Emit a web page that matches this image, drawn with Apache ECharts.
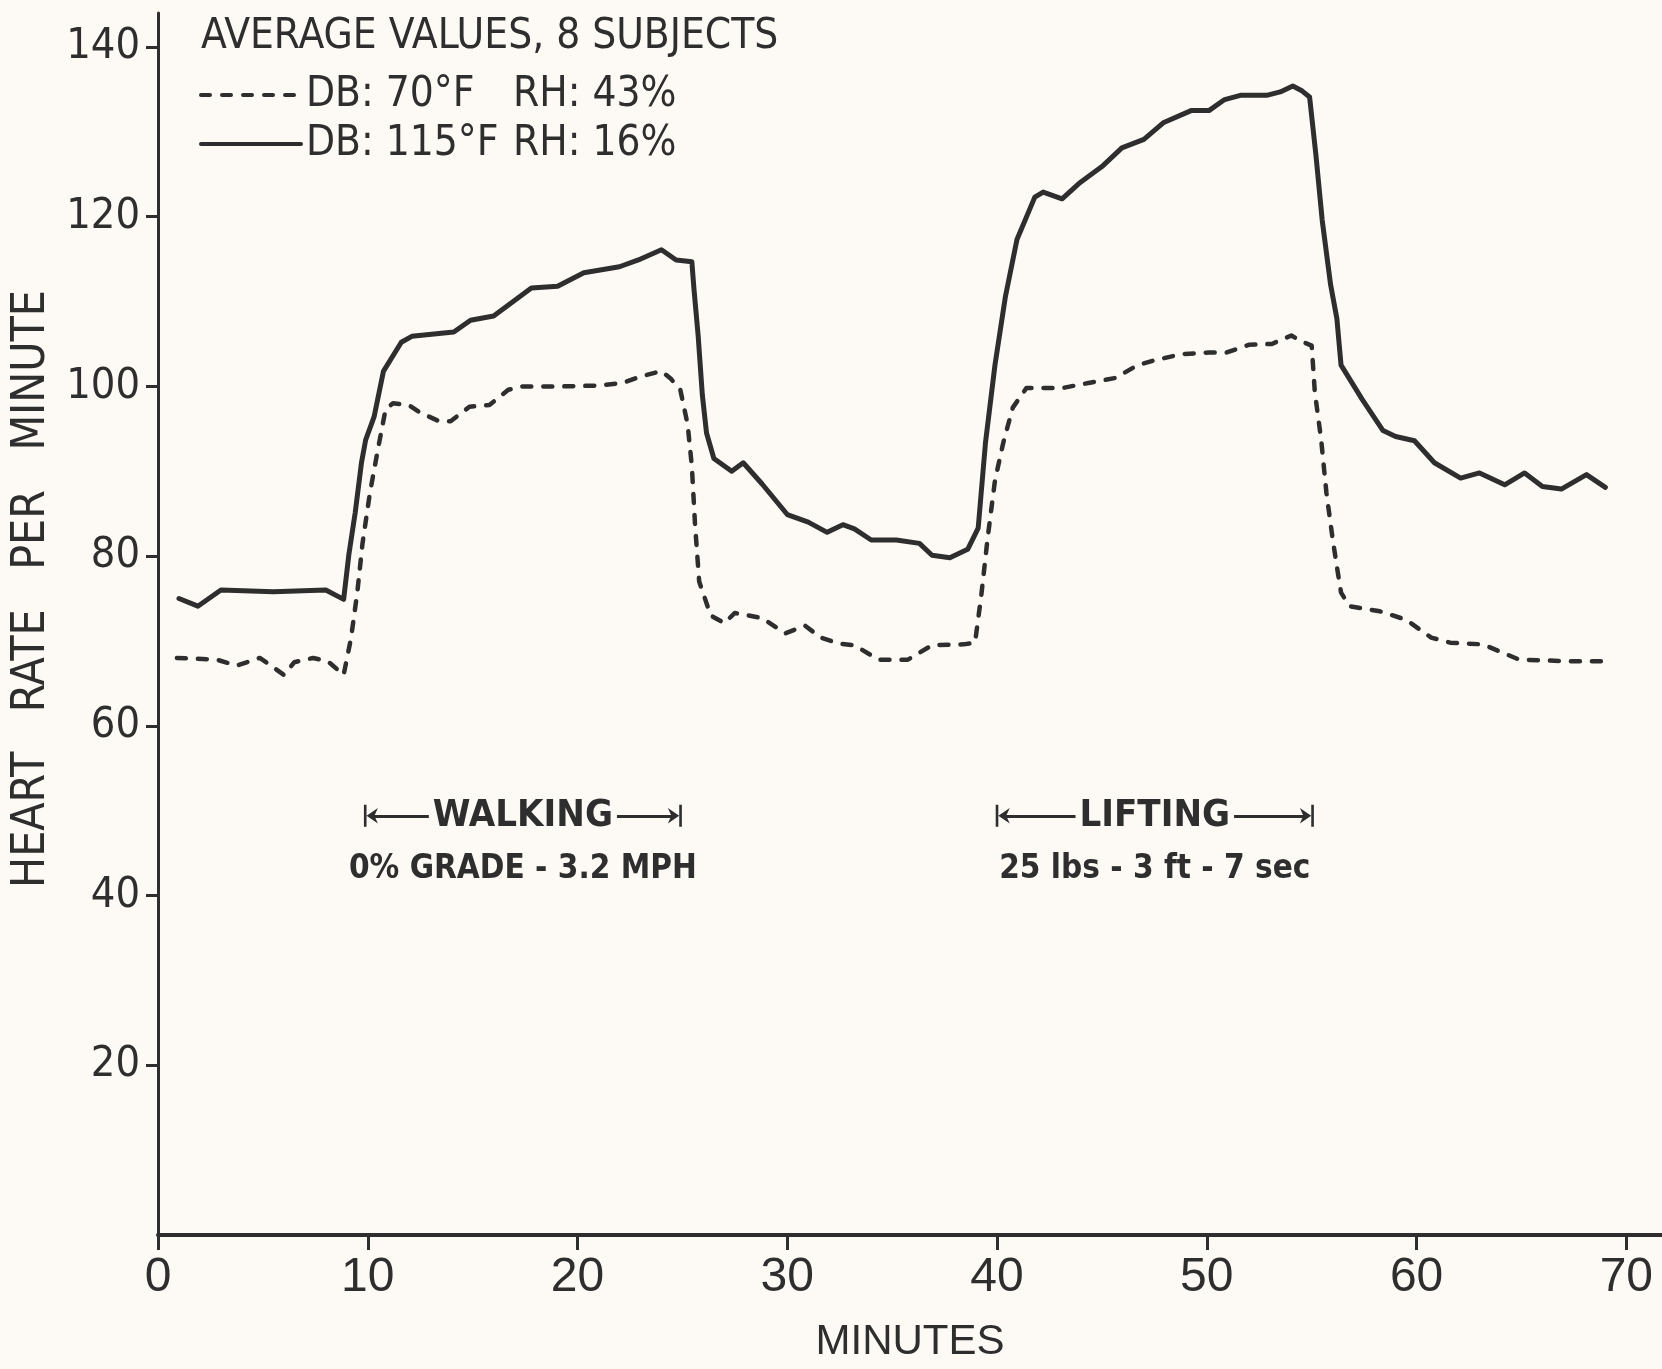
<!DOCTYPE html>
<html>
<head>
<meta charset="utf-8">
<script src="https://cdn.jsdelivr.net/npm/echarts@6/dist/echarts.min.js"></script>
<style>
    html, body {margin: 0; padding: 0; background: #fdfaf5;}
    #chart {width: 1662px; height: 1369px;}
</style>
</head>
<body>
<div id="chart"></div>
<script>
// 115°F / RH 16% (solid line)
var hotMinutes = [1.0, 1.9, 3.0, 5.5, 8.0, 8.85, 9.1, 9.4, 9.7, 9.9, 10.3, 10.75, 11.6, 12.1, 14.1, 14.9, 16.0, 17.8, 19.05, 20.3, 22.0, 22.9, 24.0, 24.7, 25.45,
    25.55, 25.75, 25.95, 26.15, 26.5, 27.35, 27.9, 28.8, 30.0, 31.0, 31.9, 32.65, 33.2, 34.0, 35.2, 36.3, 36.9, 37.75, 38.6, 39.1, 39.45, 39.9, 40.4, 40.95,
    41.8, 42.2, 43.1, 43.9, 45.0, 45.95, 47.0, 47.95, 49.25, 50.1, 50.85, 51.6, 52.85, 53.5, 54.1, 54.55, 54.9, 55.2, 55.5, 55.9, 56.2, 56.4, 57.4,
    58.4, 59.0, 59.9, 60.85, 62.1, 63.0, 64.2, 65.15, 66.0, 66.9, 68.1, 69.0];
var hotRate = [75.0, 74.1, 76.0, 75.8, 76.0, 74.9, 80.2, 85.1, 91.0, 93.7, 96.4, 101.8, 105.2, 105.9, 106.4, 107.8, 108.3, 111.6, 111.8, 113.4, 114.1, 114.9, 116.1, 114.9, 114.7,
    111.5, 106.0, 99.0, 94.5, 91.5, 90.0, 91.0, 88.5, 84.9, 84.0, 82.8, 83.7, 83.2, 81.9, 81.9, 81.5, 80.1, 79.8, 80.8, 83.3, 93.4, 102.5, 110.6, 117.3,
    122.3, 122.9, 122.1, 123.9, 125.9, 128.1, 129.1, 131.1, 132.5, 132.5, 133.8, 134.3, 134.3, 134.7, 135.4, 134.8, 134.1, 127.3, 119.6, 112.0, 108.0, 102.5, 98.5,
    94.8, 94.1, 93.6, 91.0, 89.2, 89.8, 88.4, 89.8, 88.2, 87.9, 89.6, 88.1];

// 70°F / RH 43% (dashed line)
var coolMinutes = [0.9, 2.8, 3.75, 4.85, 5.5, 6.0, 6.5, 7.4, 8.1, 8.85, 9.2, 9.5, 9.75, 10.1, 10.5, 10.85, 11.2, 11.95, 12.5, 13.4, 13.95, 14.85, 15.8, 16.7, 17.4,
    19.25, 21.05, 22.15, 23.05, 24.0, 24.45, 24.9, 25.25, 25.45, 25.6, 25.8, 26.35, 27.0, 27.5, 28.8, 29.9, 30.85, 31.6, 32.45, 33.2, 34.35, 35.75, 36.9,
    38.4, 38.95, 39.25, 39.55, 39.9, 40.3, 40.75, 41.4, 43.1, 44.35, 45.65, 46.7, 47.55, 48.8, 50.1, 50.95, 52.0, 53.1, 54.03, 54.5, 55.0, 55.15, 55.45,
    55.7, 56.0, 56.25, 56.4, 56.8, 58.25, 59.5, 60.7, 61.6, 63.15, 64.9, 66.35, 67.3, 68.9];
var coolRate = [68.0, 67.8, 67.1, 68.0, 66.9, 66.0, 67.5, 68.0, 67.6, 66.0, 70.3, 75.7, 81.5, 87.4, 92.8, 97.3, 98.0, 97.8, 96.9, 95.9, 95.9, 97.6, 97.8, 99.6, 100.0,
    100.0, 100.1, 100.4, 101.2, 101.8, 100.9, 99.6, 95.5, 90.6, 83.8, 77.0, 73.0, 72.1, 73.3, 72.7, 70.9, 71.8, 70.4, 69.7, 69.5, 67.8, 67.8, 69.5,
    69.6, 69.8, 75.4, 82.1, 88.9, 93.4, 97.5, 99.8, 99.8, 100.4, 101.0, 102.5, 103.1, 103.8, 104.0, 104.0, 104.9, 105.0, 106.0, 105.3, 104.8, 99.3, 93.75,
    87.5, 82.0, 78.0, 75.7, 74.1, 73.5, 72.5, 70.4, 69.8, 69.6, 67.8, 67.7, 67.6, 67.6];

var xTicks = [0, 10, 20, 30, 40, 50, 60, 70];
var yTicks = [20, 40, 60, 80, 100, 120, 140];

// 运动阶段标注
var phaseNames = ['WALKING', 'LIFTING'];
var phaseStart = [10.15, 40.27];
var phaseEnd = [24.64, 54.77];
var phaseNotes = ['0% GRADE - 3.2 MPH', '25 lbs - 3 ft - 7 sec'];

var ink = '#2e2e2e';
var paper = '#fdfaf5';
var narrow = "'Liberation Sans Narrow', 'DejaVu Sans Condensed', sans-serif";
var wide = "'Liberation Sans', Arial, sans-serif";
var barArrow = 'path://M0,0 L20,0 L20,3 L0,3 Z M10,3 L3,16 L10,12 L17,16 Z';

function zip(xs, ys) {
    var out = [];
    for (var i = 0; i < xs.length; i++) out.push([xs[i], ys[i]]);
    return out;
}

var legendText = {
    'DB: 70°F RH: 43%': '{a|DB: 70°F}{b|RH: 43%}',
    'DB: 115°F RH: 16%': '{a|DB: 115°F}{b|RH: 16%}'
};

var arrowData = [], noteData = [];
for (var i = 0; i < phaseNames.length; i++) {
    arrowData.push([{name: phaseNames[i], coord: [phaseStart[i], 49.4]}, {coord: [phaseEnd[i], 49.4]}]);
    noteData.push({name: phaseNotes[i], coord: [(phaseStart[i] + phaseEnd[i]) / 2, 43.1]});
}

var myChart = echarts.init(document.getElementById('chart'));
var option = {
    backgroundColor: paper,
    animation: false,
    title: {
        text: 'AVERAGE VALUES, 8 SUBJECTS',
        left: 196,
        top: 11,
        textStyle: {fontFamily: narrow, fontSize: 42, fontWeight: 'normal', color: ink}
    },
    legend: {
        orient: 'vertical',
        left: 194,
        top: 69,
        itemWidth: 100,
        itemHeight: 16,
        itemGap: 7,
        itemStyle: {color: 'rgba(0,0,0,0)', opacity: 0, borderWidth: 0},
        lineStyle: {width: 4},
        data: ['DB: 70°F RH: 43%', 'DB: 115°F RH: 16%'],
        formatter: function (name) { return legendText[name]; },
        textStyle: {
            color: ink,
            rich: {
                a: {fontFamily: narrow, fontSize: 42, color: ink, width: 207, lineHeight: 48},
                b: {fontFamily: narrow, fontSize: 42, color: ink, lineHeight: 48}
            }
        }
    },
    grid: {left: 158, right: 0, top: 13, bottom: 134},
    xAxis: {
        type: 'value',
        min: 0,
        max: 71.7,
        interval: 10,
        name: 'MINUTES',
        nameLocation: 'middle',
        nameGap: 86,
        nameTextStyle: {fontFamily: wide, fontSize: 42, color: ink},
        axisLine: {lineStyle: {color: ink, width: 4}},
        axisTick: {show: true, length: 15, lineStyle: {color: ink, width: 3}, customValues: xTicks},
        axisLabel: {
            customValues: xTicks,
            margin: 19,
            fontFamily: wide,
            fontSize: 48,
            color: ink,
            formatter: function (v) { return v % 10 === 0 ? String(v) : ''; }
        },
        splitLine: {show: false}
    },
    yAxis: {
        type: 'value',
        min: 0,
        max: 144,
        interval: 20,
        name: 'HEART   RATE   PER   MINUTE',
        nameLocation: 'middle',
        nameRotate: 90,
        nameGap: 81,
        nameTextStyle: {fontFamily: narrow, fontSize: 46, color: ink, padding: [0, 0, 0, 70]},
        axisLine: {lineStyle: {color: ink, width: 3}},
        axisTick: {show: true, length: 12, lineStyle: {color: ink, width: 3}, customValues: yTicks},
        axisLabel: {
            customValues: yTicks,
            margin: 18,
            fontFamily: narrow,
            fontSize: 43,
            color: ink,
            formatter: function (v) { return (v > 0 && v % 20 === 0) ? String(v) : ''; }
        },
        splitLine: {show: false}
    },
    series: [
        {
            name: 'DB: 70°F RH: 43%',
            type: 'line',
            symbol: 'none',
            data: zip(coolMinutes, coolRate),
            lineStyle: {color: ink, width: 4.5, type: [9, 12], cap: 'round', join: 'round'},
            itemStyle: {color: ink}
        },
        {
            name: 'DB: 115°F RH: 16%',
            type: 'line',
            symbol: 'none',
            data: zip(hotMinutes, hotRate),
            lineStyle: {color: ink, width: 5, cap: 'round', join: 'round'},
            itemStyle: {color: ink},
            markLine: {
                silent: true,
                symbol: [barArrow, barArrow],
                symbolSize: [22, 14],
                lineStyle: {color: ink, width: 3, type: 'solid'},
                label: {
                    show: true,
                    position: 'middle',
                    formatter: '{b}',
                    distance: 0,
                    verticalAlign: 'middle',
                    fontFamily: narrow,
                    fontWeight: 'bold',
                    fontSize: 38,
                    color: ink,
                    backgroundColor: paper,
                    padding: [0, 4]
                },
                data: arrowData
            },
            markPoint: {
                silent: true,
                symbol: 'rect',
                symbolSize: 1,
                itemStyle: {color: 'rgba(0,0,0,0)'},
                label: {
                    show: true,
                    position: 'inside',
                    formatter: '{b}',
                    fontFamily: narrow,
                    fontWeight: 'bold',
                    fontSize: 33,
                    color: ink
                },
                data: noteData
            }
        }
    ]
};
myChart.setOption(option);
</script>
</body>
</html>
